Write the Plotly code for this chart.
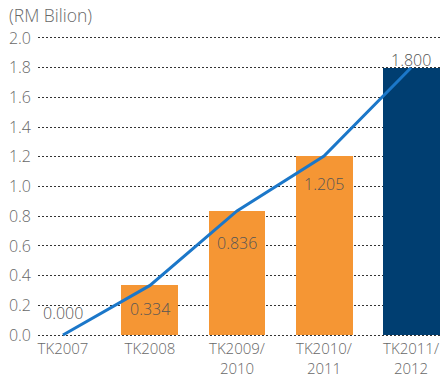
import plotly.graph_objects as go

# Data
categories = ["TK2007", "TK2008", "TK2009/<br>2010", "TK2010/<br>2011", "TK2011/<br>2012"]
values = [0.000, 0.334, 0.836, 1.205, 1.800]
value_labels = ["0.000", "0.334", "0.836", "1.205", "1.800"]
y_ticks = [0.0, 0.2, 0.4, 0.6, 0.8, 1.0, 1.2, 1.4, 1.6, 1.8, 2.0]
y_tick_text = ["0.0", "0.2", "0.4", "0.6", "0.8", "1.0", "1.2", "1.4", "1.6", "1.8", "2.0"]
unit_title = "(RM Bilion)"

# Styling
ORANGE = "#F59634"
NAVY = "#003E71"
LINE_BLUE = "#1B77C9"
TEXT_GREY = "#686868"
LABEL_GREY = "#555555"
FONT = "Open Sans"
bar_colors = [ORANGE, ORANGE, ORANGE, ORANGE, NAVY]
label_shift = [22, -24, -32, -28, 8]

xs = list(range(len(categories)))

fig = go.Figure()
fig.add_trace(go.Bar(
    x=xs, y=values, width=0.655,
    marker=dict(color=bar_colors, line=dict(width=0)),
    hoverinfo="skip",
))
fig.add_trace(go.Scatter(
    x=xs, y=values, mode="lines",
    line=dict(color=LINE_BLUE, width=3),
    cliponaxis=False, hoverinfo="skip",
))

for x, v, t, s in zip(xs, values, value_labels, label_shift):
    fig.add_annotation(
        x=x, y=v, text=t, showarrow=False, yshift=s,
        xanchor="center", yanchor="middle",
        font=dict(family=FONT, size=16, color=LABEL_GREY, weight=300),
    )

fig.add_annotation(
    xref="paper", yref="paper", x=-0.077, y=1.0, yshift=20,
    text=unit_title, showarrow=False, xanchor="left", yanchor="middle",
    font=dict(family=FONT, size=17.5, color=TEXT_GREY, weight=300),
)

fig.update_layout(
    width=442, height=376,
    margin=dict(l=38, r=0, t=35, b=38),
    paper_bgcolor="white", plot_bgcolor="white",
    showlegend=False,
    bargap=0,
)
fig.update_xaxes(
    range=[-0.287, 4.356], automargin=False,
    tickmode="array", tickvals=xs, ticktext=categories,
    showgrid=False, zeroline=False, showline=False,
    ticks="", ticklabelstandoff=0,
    tickfont=dict(family=FONT, size=15, color=TEXT_GREY, weight=300),
)
fig.update_yaxes(
    range=[-0.02, 2.02], automargin=False,
    tickmode="array", tickvals=y_ticks, ticktext=y_tick_text,
    showgrid=True, gridcolor="#333333", gridwidth=1, griddash="2px,2px",
    zeroline=False, showline=False, ticks="", ticklabelstandoff=6,
    tickfont=dict(family=FONT, size=16, color=TEXT_GREY, weight=300),
)

fig.write_html("out.html")
